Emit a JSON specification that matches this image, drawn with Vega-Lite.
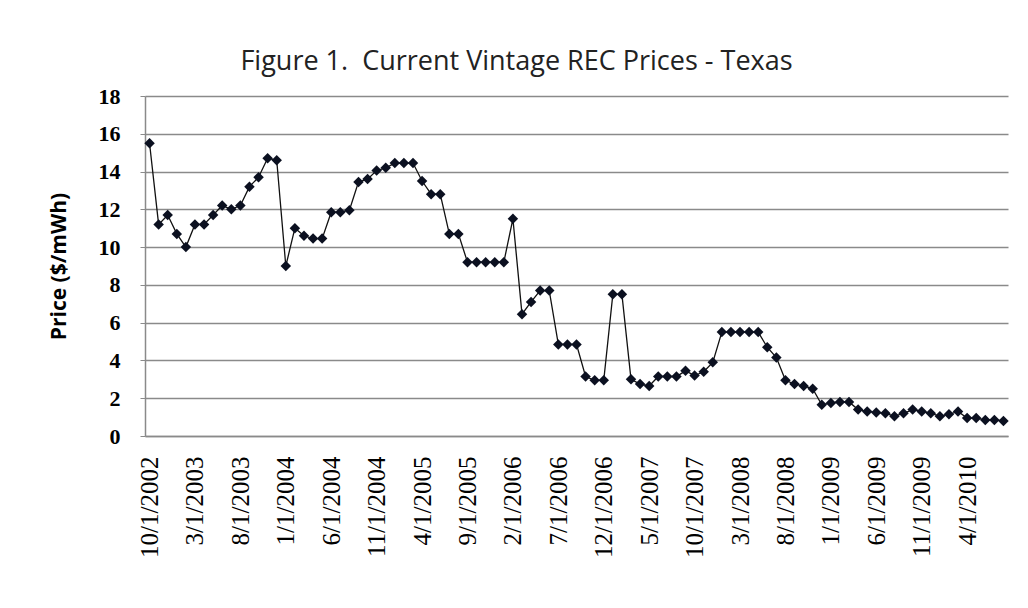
{
  "$schema": "https://vega.github.io/schema/vega-lite/v6.json",
  "autosize": {"type": "none"},
  "padding": {"left": 145, "top": 96, "right": 20, "bottom": 172},
  "width": 863,
  "height": 340,
  "background": "white",
  "title": {
    "text": "Figure 1.\u00a0 Current Vintage REC Prices - Texas",
    "font": "Open Sans",
    "fontSize": 27,
    "fontWeight": "normal",
    "color": "#222222",
    "anchor": "middle",
    "frame": "group",
    "baseline": "alphabetic",
    "offset": 27,
    "dx": -60,
    "dy": 39
  },
  "config": {
    "view": {"stroke": null},
    "axis": {"labelColor": "#000000", "titleColor": "#000000"}
  },
  "data": {
    "values": [
      {"date": "10/1/2002", "price": 15.5},
      {"date": "11/1/2002", "price": 11.2},
      {"date": "12/1/2002", "price": 11.7},
      {"date": "1/1/2003", "price": 10.7},
      {"date": "2/1/2003", "price": 10.0},
      {"date": "3/1/2003", "price": 11.2},
      {"date": "4/1/2003", "price": 11.2},
      {"date": "5/1/2003", "price": 11.7},
      {"date": "6/1/2003", "price": 12.2},
      {"date": "7/1/2003", "price": 12.0},
      {"date": "8/1/2003", "price": 12.2},
      {"date": "9/1/2003", "price": 13.2},
      {"date": "10/1/2003", "price": 13.7},
      {"date": "11/1/2003", "price": 14.7},
      {"date": "12/1/2003", "price": 14.6},
      {"date": "1/1/2004", "price": 9.0},
      {"date": "2/1/2004", "price": 11.0},
      {"date": "3/1/2004", "price": 10.6},
      {"date": "4/1/2004", "price": 10.45},
      {"date": "5/1/2004", "price": 10.45},
      {"date": "6/1/2004", "price": 11.85},
      {"date": "7/1/2004", "price": 11.85},
      {"date": "8/1/2004", "price": 11.95},
      {"date": "9/1/2004", "price": 13.45},
      {"date": "10/1/2004", "price": 13.6},
      {"date": "11/1/2004", "price": 14.05},
      {"date": "12/1/2004", "price": 14.2},
      {"date": "1/1/2005", "price": 14.45},
      {"date": "2/1/2005", "price": 14.45},
      {"date": "3/1/2005", "price": 14.45},
      {"date": "4/1/2005", "price": 13.5},
      {"date": "5/1/2005", "price": 12.8},
      {"date": "6/1/2005", "price": 12.8},
      {"date": "7/1/2005", "price": 10.7},
      {"date": "8/1/2005", "price": 10.7},
      {"date": "9/1/2005", "price": 9.2},
      {"date": "10/1/2005", "price": 9.2},
      {"date": "11/1/2005", "price": 9.2},
      {"date": "12/1/2005", "price": 9.2},
      {"date": "1/1/2006", "price": 9.2},
      {"date": "2/1/2006", "price": 11.5},
      {"date": "3/1/2006", "price": 6.45},
      {"date": "4/1/2006", "price": 7.1},
      {"date": "5/1/2006", "price": 7.7},
      {"date": "6/1/2006", "price": 7.7},
      {"date": "7/1/2006", "price": 4.85},
      {"date": "8/1/2006", "price": 4.85},
      {"date": "9/1/2006", "price": 4.85},
      {"date": "10/1/2006", "price": 3.15},
      {"date": "11/1/2006", "price": 2.95},
      {"date": "12/1/2006", "price": 2.95},
      {"date": "1/1/2007", "price": 7.5},
      {"date": "2/1/2007", "price": 7.5},
      {"date": "3/1/2007", "price": 3.0},
      {"date": "4/1/2007", "price": 2.75},
      {"date": "5/1/2007", "price": 2.65},
      {"date": "6/1/2007", "price": 3.15},
      {"date": "7/1/2007", "price": 3.15},
      {"date": "8/1/2007", "price": 3.15},
      {"date": "9/1/2007", "price": 3.45},
      {"date": "10/1/2007", "price": 3.2},
      {"date": "11/1/2007", "price": 3.4},
      {"date": "12/1/2007", "price": 3.9},
      {"date": "1/1/2008", "price": 5.5},
      {"date": "2/1/2008", "price": 5.5},
      {"date": "3/1/2008", "price": 5.5},
      {"date": "4/1/2008", "price": 5.5},
      {"date": "5/1/2008", "price": 5.5},
      {"date": "6/1/2008", "price": 4.7},
      {"date": "7/1/2008", "price": 4.15},
      {"date": "8/1/2008", "price": 2.95},
      {"date": "9/1/2008", "price": 2.75},
      {"date": "10/1/2008", "price": 2.65},
      {"date": "11/1/2008", "price": 2.5},
      {"date": "12/1/2008", "price": 1.65},
      {"date": "1/1/2009", "price": 1.75},
      {"date": "2/1/2009", "price": 1.8},
      {"date": "3/1/2009", "price": 1.8},
      {"date": "4/1/2009", "price": 1.4},
      {"date": "5/1/2009", "price": 1.3},
      {"date": "6/1/2009", "price": 1.25},
      {"date": "7/1/2009", "price": 1.2},
      {"date": "8/1/2009", "price": 1.05},
      {"date": "9/1/2009", "price": 1.2},
      {"date": "10/1/2009", "price": 1.4},
      {"date": "11/1/2009", "price": 1.3},
      {"date": "12/1/2009", "price": 1.2},
      {"date": "1/1/2010", "price": 1.05},
      {"date": "2/1/2010", "price": 1.15},
      {"date": "3/1/2010", "price": 1.3},
      {"date": "4/1/2010", "price": 0.95},
      {"date": "5/1/2010", "price": 0.95},
      {"date": "6/1/2010", "price": 0.85},
      {"date": "7/1/2010", "price": 0.85},
      {"date": "8/1/2010", "price": 0.8}
    ]
  },
  "encoding": {
    "x": {
      "field": "date",
      "type": "ordinal",
      "sort": null,
      "scale": {"type": "point", "padding": 0.5},
      "axis": {
        "title": null,
        "values": ["10/1/2002", "3/1/2003", "8/1/2003", "1/1/2004", "6/1/2004", "11/1/2004", "4/1/2005", "9/1/2005", "2/1/2006", "7/1/2006", "12/1/2006", "5/1/2007", "10/1/2007", "3/1/2008", "8/1/2008", "1/1/2009", "6/1/2009", "11/1/2009", "4/1/2010"],
        "labelAngle": -90,
        "labelAlign": "right",
        "labelBaseline": "middle",
        "labelFont": "Liberation Serif",
        "labelFontSize": 25,
        "labelPadding": 20,
        "ticks": false,
        "domainColor": "#8a8a8a",
        "domainWidth": 1.5,
        "grid": false
      }
    },
    "y": {
      "field": "price",
      "type": "quantitative",
      "scale": {"domain": [0, 18], "nice": false, "zero": true},
      "axis": {
        "title": "Price ($/mWh)",
        "titleFont": "Open Sans",
        "titleFontSize": 21,
        "titleFontWeight": "bold",
        "titlePadding": 29,
        "values": [0, 2, 4, 6, 8, 10, 12, 14, 16, 18],
        "labelFont": "Liberation Serif",
        "labelFontSize": 22,
        "labelFontWeight": "bold",
        "labelPadding": 20,
        "tickSize": 5,
        "tickColor": "#8a8a8a",
        "domainColor": "#8a8a8a",
        "domainWidth": 1.5,
        "grid": true,
        "gridColor": "#8a8a8a",
        "gridWidth": 1.5
      }
    }
  },
  "layer": [
    {"mark": {"type": "line", "color": "#111111", "strokeWidth": 1.3}},
    {"mark": {"type": "point", "shape": "diamond", "filled": true, "color": "#0b1020", "opacity": 1, "size": 110}}
  ]
}
